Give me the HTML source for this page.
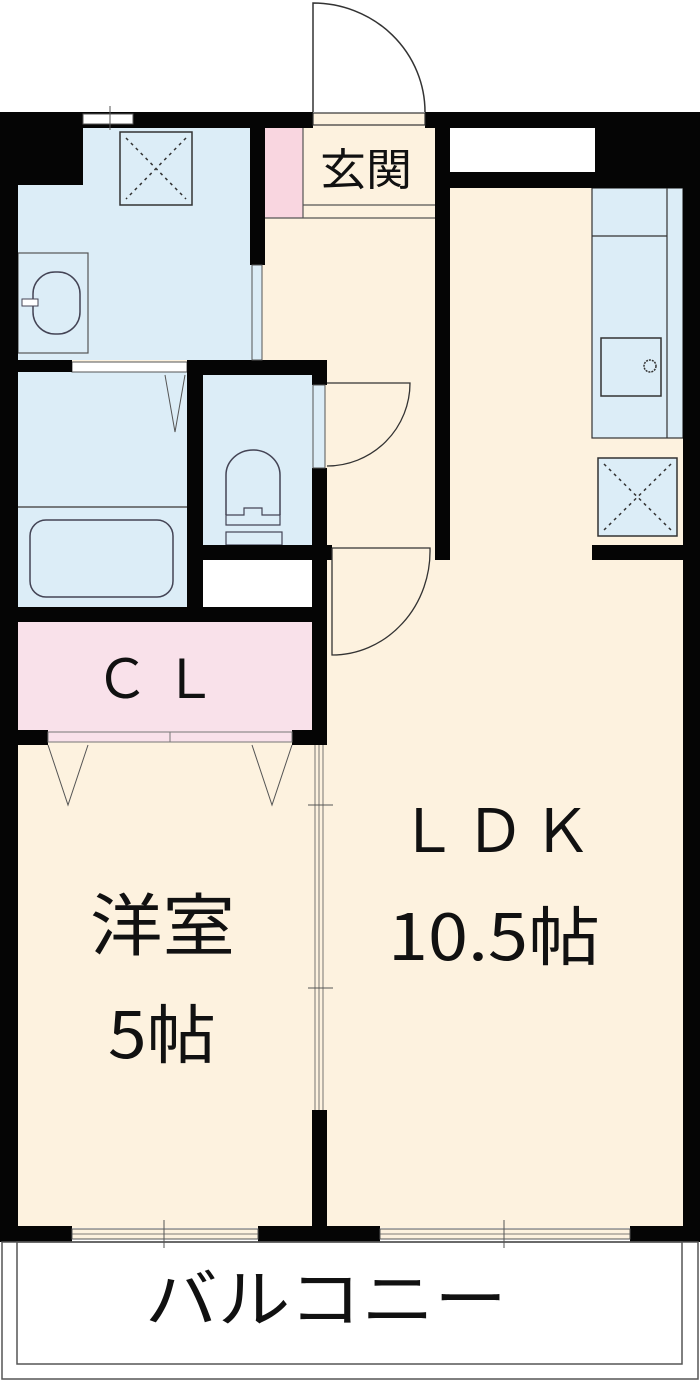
<!DOCTYPE html>
<html><head><meta charset="utf-8"><style>
html,body{margin:0;padding:0;background:#fff;}
svg{display:block;}
text{font-family:"Noto Sans CJK JP","Liberation Sans",sans-serif;fill:#111;}
</style></head><body>
<svg width="700" height="1382" viewBox="0 0 700 1382" xmlns="http://www.w3.org/2000/svg">
<rect x="18" y="125" width="665" height="1103" fill="#fdf2df"/>
<rect x="18" y="125" width="234" height="235" fill="#dcedf7"/>
<rect x="18" y="372" width="170" height="235" fill="#dcedf7"/>
<rect x="203" y="375" width="110" height="170" fill="#dcedf7"/>
<rect x="203" y="560" width="110" height="47" fill="#fff"/>
<rect x="18" y="622" width="295" height="110" fill="#f9e1ea"/>
<rect x="265" y="128" width="38" height="90" fill="#f9d6e0"/>
<rect x="450" y="127" width="145" height="45" fill="#fff"/>
<rect x="592" y="188" width="91" height="250" fill="#dcedf7" stroke="#333" stroke-width="1.2"/>
<line x1="667" y1="188" x2="667" y2="438" stroke="#333" stroke-width="1.2"/>
<line x1="592" y1="236" x2="667" y2="236" stroke="#333" stroke-width="1.2"/>
<rect x="601" y="338" width="60" height="58" fill="none" stroke="#333" stroke-width="1.5"/>
<circle cx="650" cy="366" r="6" fill="none" stroke="#333" stroke-width="1.5" stroke-dasharray="2 1"/>
<rect x="598" y="458" width="79" height="78" fill="#dcedf7" stroke="#333" stroke-width="1.5"/>
<path d="M604 464L671 530M671 464L604 530" stroke="#333" stroke-width="1.5" stroke-dasharray="3 4"/>
<rect x="120" y="132" width="72" height="73" fill="none" stroke="#333" stroke-width="1.5"/>
<path d="M126 138L186 199M186 138L126 199" stroke="#333" stroke-width="1.5" stroke-dasharray="3 4"/>
<rect x="18" y="253" width="70" height="100" fill="none" stroke="#555" stroke-width="1.2"/>
<rect x="33" y="272" width="47" height="62" rx="22" fill="none" stroke="#445" stroke-width="1.5"/>
<rect x="22" y="299" width="16" height="7" fill="#fff" stroke="#445" stroke-width="1"/>
<line x1="18" y1="507" x2="188" y2="507" stroke="#555" stroke-width="1.5"/>
<rect x="30" y="520" width="143" height="77" rx="16" fill="none" stroke="#445" stroke-width="1.5"/>
<path d="M165 375L175 432L185 375" fill="none" stroke="#555" stroke-width="1"/>
<rect x="72" y="362" width="115" height="10" fill="#fff" stroke="#555" stroke-width="1"/>
<path d="M226 515V475a27 25 0 0 1 54 0V515" fill="none" stroke="#445" stroke-width="1.5"/>
<path d="M226 515H244V508H262V515H280V525H226Z" fill="none" stroke="#445" stroke-width="1.2"/>
<rect x="226" y="532" width="56" height="13" fill="none" stroke="#445" stroke-width="1.2"/>
<line x1="303" y1="128" x2="303" y2="218" stroke="#555" stroke-width="1.2"/>
<line x1="303" y1="205" x2="435" y2="205" stroke="#555" stroke-width="1.2"/>
<line x1="265" y1="218" x2="435" y2="218" stroke="#555" stroke-width="1.2"/>
<g fill="#050505">
<rect x="0" y="112" width="313" height="16"/>
<rect x="425" y="112" width="275" height="16"/>
<rect x="0" y="112" width="18" height="1130"/>
<rect x="683" y="112" width="17" height="1130"/>
<rect x="0" y="112" width="83" height="73"/>
<rect x="595" y="112" width="105" height="76"/>
<rect x="435" y="172" width="265" height="16"/>
<rect x="435" y="112" width="15" height="448"/>
<rect x="250" y="112" width="15" height="153"/>
<rect x="0" y="360" width="72" height="12"/>
<rect x="187" y="360" width="140" height="15"/>
<rect x="187" y="360" width="16" height="262"/>
<rect x="312" y="360" width="15" height="25"/>
<rect x="312" y="468" width="15" height="277"/>
<rect x="187" y="545" width="145" height="15"/>
<rect x="0" y="607" width="327" height="15"/>
<rect x="0" y="730" width="48" height="15"/>
<rect x="292" y="730" width="35" height="15"/>
<rect x="312" y="1110" width="15" height="130"/>
<rect x="0" y="1226" width="72" height="16"/>
<rect x="258" y="1226" width="122" height="16"/>
<rect x="630" y="1226" width="70" height="16"/>
<rect x="592" y="545" width="91" height="15"/>
</g>
<rect x="83" y="114" width="50" height="10" fill="#fff" stroke="#555" stroke-width="1"/>
<line x1="110" y1="106" x2="110" y2="130" stroke="#555"/>
<rect x="252" y="265" width="10" height="95" fill="#dcedf7" stroke="#555" stroke-width="1"/>
<rect x="313" y="385" width="12" height="83" fill="#dcedf7" stroke="#555" stroke-width="1"/>
<rect x="313" y="113" width="112" height="12" fill="#fdf2df" stroke="#333" stroke-width="1.2"/>
<path d="M313 112V3A112 109 0 0 1 425 112" fill="none" stroke="#333" stroke-width="1.5"/>
<path d="M327 383H410A83 83 0 0 1 327 466" fill="none" stroke="#333" stroke-width="1.3"/>
<path d="M332 548H430A98 104 0 0 1 332 655V548" fill="none" stroke="#333" stroke-width="1.3"/>
<rect x="48" y="732" width="244" height="10" fill="#f9e1ea" stroke="#777" stroke-width="1"/>
<line x1="170" y1="732" x2="170" y2="742" stroke="#777"/>
<path d="M48 745L68 805L88 745M252 745L272 805L292 745" fill="none" stroke="#555" stroke-width="1"/>
<path d="M315 745V1110M319 745V1110M323 745V1110" stroke="#555" stroke-width="0.8"/>
<path d="M308 805H333M308 988H333" stroke="#555" stroke-width="1"/>
<rect x="72" y="1229" width="186" height="10" fill="#fdf2df" stroke="#555" stroke-width="1"/>
<rect x="380" y="1229" width="250" height="10" fill="#fdf2df" stroke="#555" stroke-width="1"/>
<line x1="72" y1="1234" x2="258" y2="1234" stroke="#555" stroke-width="0.8"/>
<line x1="380" y1="1234" x2="630" y2="1234" stroke="#555" stroke-width="0.8"/>
<path d="M164 1220V1248M504 1220V1248" stroke="#555"/>
<rect x="2" y="1242" width="696" height="137" fill="none" stroke="#555" stroke-width="1.5"/>
<rect x="17" y="1242" width="665" height="122" fill="none" stroke="#555" stroke-width="1.5"/>
<text x="320" y="185" font-size="44" textLength="92" lengthAdjust="spacingAndGlyphs">玄関</text>
<text x="95" y="698" font-size="54" textLength="122" lengthAdjust="spacing">ＣＬ</text>
<text x="398" y="852" font-size="60" textLength="194" lengthAdjust="spacing">ＬＤＫ</text>
<text x="388" y="960" font-size="64" textLength="212" lengthAdjust="spacingAndGlyphs">10.5帖</text>
<text x="90" y="950" font-size="68" textLength="145" lengthAdjust="spacingAndGlyphs">洋室</text>
<text x="108" y="1058" font-size="64" textLength="108" lengthAdjust="spacingAndGlyphs">5帖</text>
<text x="145" y="1322" font-size="64" textLength="362" lengthAdjust="spacingAndGlyphs">バルコニー</text>
</svg>
</body></html>
